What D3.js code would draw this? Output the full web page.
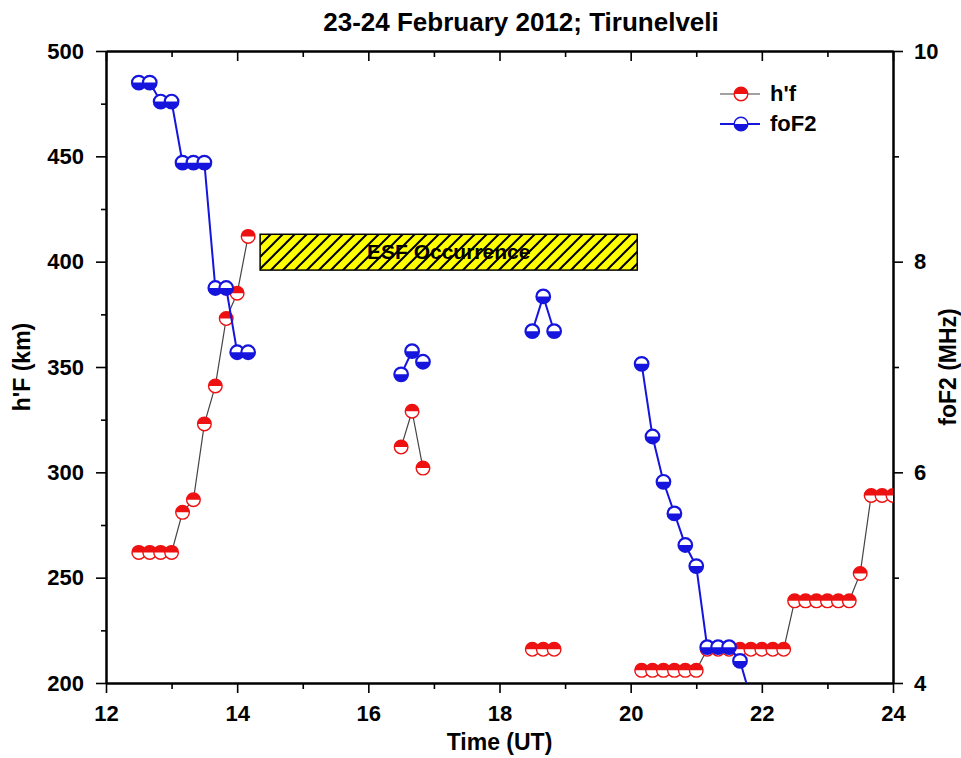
<!DOCTYPE html>
<html>
<head>
<meta charset="utf-8">
<script src="https://cdn.jsdelivr.net/npm/d3@7"></script>
<style>
  body { margin: 0; background: #fff; }
  text { font-family: "Liberation Sans", Arial, sans-serif; font-weight: bold; fill: #000; }
</style>
</head>
<body>
<div id="chart"></div>
<script>
// Data (time in UT hours, null = gap in the record)
const hfTime = [12.5, 12.667, 12.833, 13.0, 13.167, 13.333, 13.5, 13.667, 13.833, 14.0, 14.167, null,
  16.5, 16.667, 16.833, null, 18.5, 18.667, 18.833, null,
  20.167, 20.333, 20.5, 20.667, 20.833, 21.0, 21.167, 21.333, 21.5, 21.667, 21.833, 22.0, 22.167, 22.333,
  22.5, 22.667, 22.833, 23.0, 23.167, 23.333, 23.5, 23.667, 23.833, 24.0];
const hfValues = [262, 262, 262, 262, 281, 287, 323, 341, 373, 385, 412, null,
  312, 329, 302, null, 216, 216, 216, null,
  206, 206, 206, 206, 206, 206, 216, 216, 216, 216, 216, 216, 216, 216,
  239, 239, 239, 239, 239, 239, 252, 289, 289, 289];

const foTime = [12.5, 12.667, 12.833, 13.0, 13.167, 13.333, 13.5, 13.667, 13.833, 14.0, 14.167, null,
  16.5, 16.667, 16.833, null, 18.5, 18.667, 18.833, null,
  20.167, 20.333, 20.5, 20.667, 20.833, 21.0, 21.167, 21.333, 21.5, 21.667, 21.833];
const foValues = [9.70, 9.70, 9.52, 9.52, 8.94, 8.94, 8.94, 7.75, 7.75, 7.14, 7.14, null,
  6.93, 7.15, 7.05, null, 7.34, 7.67, 7.34, null,
  7.03, 6.34, 5.91, 5.61, 5.31, 5.11, 4.34, 4.34, 4.34, 4.21, 3.85];

// ESF occurrence band
const esfTime = [14.35, 20.1];
const esfHeight = [396, 413];

// Tick labels
const timeTicks = [12, 14, 16, 18, 20, 22, 24];
const timeMinor = [13, 15, 17, 19, 21, 23];
const hfTicks = [200, 250, 300, 350, 400, 450, 500];
const hfMinor = [225, 275, 325, 375, 425, 475];
const foTicks = [4, 6, 8, 10];
const foMinor = [5, 7, 9];

const W = 961, H = 758;
const margin = { top: 51, right: 68, bottom: 75, left: 106 };
const width = W - margin.left - margin.right;
const height = H - margin.top - margin.bottom;

const RED = "#ee1111", BLUE = "#1515dd", R = 6.8;

const x = d3.scaleLinear().domain([12, 24]).range([0, width]);
const yL = d3.scaleLinear().domain([200, 500]).range([height, 0]);
const yR = d3.scaleLinear().domain([4, 10]).range([height, 0]);

const svg = d3.select("#chart").append("svg")
  .attr("width", W).attr("height", H);

const defs = svg.append("defs");
defs.append("clipPath").attr("id", "plotClip")
  .append("rect").attr("width", width).attr("height", height);

const hatch = defs.append("pattern").attr("id", "hatch")
  .attr("patternUnits", "userSpaceOnUse").attr("width", 12).attr("height", 12);
hatch.append("rect").attr("width", 12).attr("height", 12).attr("fill", "#ffff00");
hatch.append("path").attr("d", "M-3,3l6,-6M0,12l12,-12M9,15l6,-6")
  .attr("stroke", "#000").attr("stroke-width", 2);

const g = svg.append("g").attr("transform", `translate(${margin.left},${margin.top})`);

// title
svg.append("text").attr("x", 521).attr("y", 31)
  .attr("text-anchor", "middle").style("font-size", "26px")
  .text("23-24 February 2012; Tirunelveli");

// axes
function styleAxis(sel) {
  sel.select(".domain").attr("stroke-width", 2);
  sel.selectAll(".tick line").attr("stroke-width", 1.6);
  sel.selectAll(".tick text").style("font-size", "22px");
}

g.append("g").attr("transform", `translate(0,${height})`)
  .call(d3.axisBottom(x).tickValues(timeTicks).tickSize(10).tickSizeOuter(0).tickPadding(12))
  .call(styleAxis);
g.append("g").attr("transform", `translate(0,${height})`)
  .call(d3.axisBottom(x).tickValues(timeMinor).tickSize(6).tickFormat("").tickSizeOuter(0))
  .call(styleAxis);
g.append("g")
  .call(d3.axisTop(x).tickValues(timeTicks).tickSize(-10).tickFormat("").tickSizeOuter(0))
  .call(styleAxis);
g.append("g")
  .call(d3.axisTop(x).tickValues(timeMinor).tickSize(-6).tickFormat("").tickSizeOuter(0))
  .call(styleAxis);

g.append("g")
  .call(d3.axisLeft(yL).tickValues(hfTicks).tickSize(10).tickSizeOuter(0).tickPadding(12))
  .call(styleAxis);
g.append("g")
  .call(d3.axisLeft(yL).tickValues(hfMinor).tickSize(5).tickFormat("").tickSizeOuter(0))
  .call(styleAxis);

g.append("g").attr("transform", `translate(${width},0)`)
  .call(d3.axisRight(yR).tickValues(foTicks).tickSize(10).tickSizeOuter(0).tickPadding(11)
    .tickFormat(d3.format("d")))
  .call(styleAxis);
g.append("g").attr("transform", `translate(${width},0)`)
  .call(d3.axisRight(yR).tickValues(foMinor).tickSize(6).tickFormat("").tickSizeOuter(0))
  .call(styleAxis);

// axis titles
svg.append("text").attr("x", margin.left + width / 2).attr("y", 750)
  .attr("text-anchor", "middle").style("font-size", "23px").text("Time (UT)");
svg.append("text")
  .attr("transform", `translate(30,${margin.top + height / 2}) rotate(-90)`)
  .attr("text-anchor", "middle").style("font-size", "23px").text("h'F (km)");
svg.append("text")
  .attr("transform", `translate(956,${margin.top + height / 2}) rotate(-90)`)
  .attr("text-anchor", "middle").style("font-size", "23px").text("foF2 (MHz)");

// ESF box
g.append("rect")
  .attr("x", x(esfTime[0])).attr("y", yL(esfHeight[1]))
  .attr("width", x(esfTime[1]) - x(esfTime[0]))
  .attr("height", yL(esfHeight[0]) - yL(esfHeight[1]))
  .attr("fill", "url(#hatch)").attr("stroke", "#000").attr("stroke-width", 1.5);
g.append("text")
  .attr("x", (x(esfTime[0]) + x(esfTime[1])) / 2)
  .attr("y", (yL(esfHeight[0]) + yL(esfHeight[1])) / 2 + 7)
  .attr("text-anchor", "middle").style("font-size", "21px")
  .text("ESF Occurrence");

const topHalf = `M${-R},0A${R},${R} 0 0 1 ${R},0Z`;
const bottomHalf = `M${-R},0A${R},${R} 0 0 0 ${R},0Z`;

function drawMarker(sel, color, half, sw) {
  sel.append("circle").attr("r", R).attr("fill", "#fff")
    .attr("stroke", color).attr("stroke-width", sw);
  sel.append("path").attr("d", half).attr("fill", color);
}

const plot = g.append("g").attr("clip-path", "url(#plotClip)");

const hfData = d3.zip(hfTime, hfValues);
const foData = d3.zip(foTime, foValues);

const hfLine = d3.line().defined(d => d[1] != null)
  .x(d => x(d[0])).y(d => yL(d[1]));
const foLine = d3.line().defined(d => d[1] != null)
  .x(d => x(d[0])).y(d => yR(d[1]));

// h'F series
plot.append("path").datum(hfData).attr("d", hfLine)
  .attr("fill", "none").attr("stroke", "#444").attr("stroke-width", 1.2);
plot.selectAll(".hf").data(hfData.filter(d => d[1] != null)).enter()
  .append("g").attr("class", "hf")
  .attr("transform", d => `translate(${x(d[0])},${yL(d[1])})`)
  .each(function() { drawMarker(d3.select(this), RED, topHalf, 1.4); });

// foF2 series
plot.append("path").datum(foData).attr("d", foLine)
  .attr("fill", "none").attr("stroke", BLUE).attr("stroke-width", 2);
plot.selectAll(".fo").data(foData.filter(d => d[1] != null)).enter()
  .append("g").attr("class", "fo")
  .attr("transform", d => `translate(${x(d[0])},${yR(d[1])})`)
  .each(function() { drawMarker(d3.select(this), BLUE, bottomHalf, 2.2); });

// legend
const legendItems = [
  { name: "h'f", color: RED, line: "#444", half: topHalf, sw: 1.4 },
  { name: "foF2", color: BLUE, line: BLUE, half: bottomHalf, sw: 1.4 }
];
const legend = svg.append("g").attr("transform", "translate(720,94)");
const li = legend.selectAll("g").data(legendItems).enter().append("g")
  .attr("transform", (d, i) => `translate(0,${i * 30})`);
li.append("line").attr("x1", 0).attr("x2", 40)
  .attr("stroke", d => d.line).attr("stroke-width", d => d.name === "foF2" ? 2 : 1.2);
li.each(function(d) {
  const m = d3.select(this).append("g").attr("transform", "translate(21,0)");
  drawMarker(m, d.color, d.half, d.sw);
});
li.append("text").attr("x", 50).attr("y", 7).style("font-size", "22px").text(d => d.name);
</script>
</body>
</html>
